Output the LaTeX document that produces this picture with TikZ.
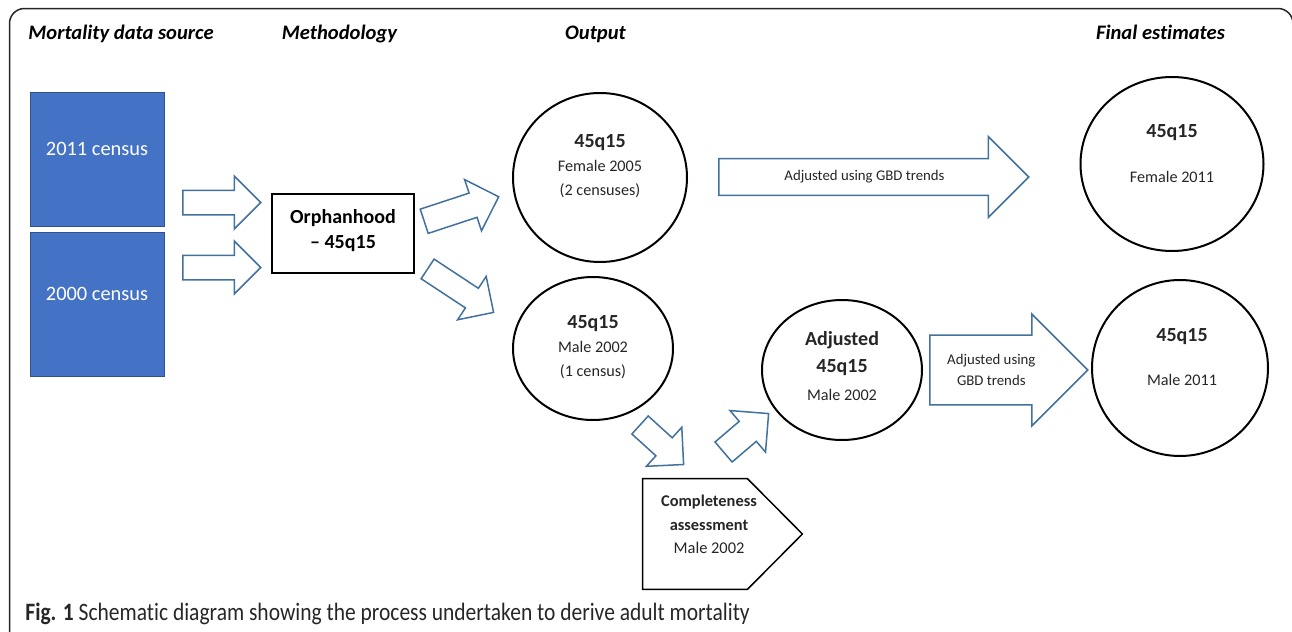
\documentclass[tikz,border=0pt]{standalone}
\usepackage{fontspec}
\setmainfont{Carlito}[Ligatures={TeX,NoCommon}]
\newfontfamily\capfont{Carlito}[FakeStretch=0.86, Ligatures={TeX,NoCommon}]
\usetikzlibrary{shapes.geometric,shapes.arrows,positioning}

\definecolor{censusblue}{HTML}{4472C4}
\definecolor{censusedge}{HTML}{2F528F}
\definecolor{arrowedge}{HTML}{41719C}
\definecolor{inktext}{HTML}{262626}

% bold first line inside the estimate bubbles
\newcommand{\ratebf}[1]{{\fontsize{10}{12}\selectfont\bfseries #1}}

\begin{document}
\begin{tikzpicture}[x=0.5pt, y=-0.5pt,
    frame/.style={line width=0.75pt, black!85, rounded corners=7.5pt},
    heading/.style={anchor=base, font=\fontsize{10.3}{12}\selectfont\bfseries\itshape},
    census/.style={draw=censusedge, fill=censusblue, line width=0.5pt, minimum width=67pt, minimum height=67pt},
    censustext/.style={text=white, font=\fontsize{10.2}{12}\selectfont},
    method/.style={draw, line width=0.75pt, minimum width=71pt, minimum height=39.5pt, align=center, font=\fontsize{10}{12.5}\selectfont\bfseries},
    estimate/.style={draw, ellipse, line width=1pt, inner sep=0pt},
    esttext/.style={align=center, text=inktext, font=\fontsize{8.1}{12}\selectfont},
    % body width = 2 x inner ysep, head width = minimum width
    blockarrow/.style={single arrow, draw=arrowedge, fill=white, line width=0.75pt, single arrow tip angle=90,
        inner xsep=0pt, inner ysep=5.75pt, anchor=tail, minimum width=24pt, minimum height=39pt},
    bigarrow/.style={blockarrow, inner xsep=1pt, align=center, text=inktext, font=\fontsize{7.4}{10.5}\selectfont},
]
\useasboundingbox (0,0) rectangle (1292,632);
% outer frame, runs off the page at the bottom and the right
\draw[frame] (80,645) -- (9.5,645) -- (9.5,8.5) -- (1293,8.5) -- (1293,80);

% column headings
\node[heading] (hsource) at (121,39) {Mortality data source};
\node[heading] (hmethod) at (339.5,39) {Methodology};
\node[heading] (houtput) at (595.5,39) {Output};
\node[heading] (hfinal) at (1160.5,39) {Final estimates};

% data sources
\node[census] (c2011) at (97,159) {};
\node[census, minimum height=72pt] (c2000) at (97,304) {};
\node[censustext] (t2011) at ([yshift=5pt]c2011.center) {2011 census};
\node[censustext] (t2000) at ([yshift=5pt]c2000.center) {2000 census};

\node[blockarrow] (a2011) at (182,202.5) {};
\node[blockarrow] (a2000) at (182,267.5) {};

% method
\node[method, text depth=4.5pt] (orph) at (343,233.5) {Orphanhood\\-- 45q15};

\node[blockarrow, rotate=18.2, minimum height=39.2pt, inner ysep=6pt] (afem) at (423.5,221.5) {};
\node[blockarrow, rotate=-33.4, minimum height=39.5pt, inner ysep=5.5pt] (amale) at (427,268.5) {};

% output
\node[estimate, minimum width=87pt, minimum height=84.5pt] (fem05) at (600,177.5) {};
\node[esttext] (tfem05) at (600,166) {\ratebf{45q15}\\Female 2005\\(2 censuses)};
\node[estimate, minimum width=80pt, minimum height=71.5pt] (male02) at (593,348.5) {};
\node[esttext] (tmale02) at (593,347) {\ratebf{45q15}\\Male 2002\\(1 census)};

% completeness check for males
\node[blockarrow, rotate=-42.2, minimum height=29.4pt, minimum width=23.7pt, inner ysep=5.7pt] (acheck) at (639.5,424.5) {};
\node[minimum width=52pt, minimum height=55pt, inner sep=0pt] (compl) at (695,534) {};
\draw[line width=0.75pt] (compl.north west) -- (compl.north east) -- ([xshift=27.5pt]compl.east)
    -- (compl.south east) -- (compl.south west) -- cycle;
\node[align=center, text=inktext, font=\fontsize{8.2}{11.75}\selectfont\bfseries] (tcompl) at (709,524.5)
    {Completeness\\assessment\\{\mdseries Male 2002}};
\node[blockarrow, rotate=40.5, minimum height=29.6pt, minimum width=23.8pt, inner ysep=6.2pt] (aadj) at (723,452.5) {};

\node[estimate, minimum width=80pt, minimum height=70pt] (adj) at (842,370) {};
\node[esttext, font=\fontsize{8.1}{13.75}\selectfont] (tadj) at (842,366) {\ratebf{Adjusted}\\\ratebf{45q15}\\Male 2002};

% trend adjustment
\node[bigarrow, minimum height=155pt, minimum width=40.5pt, text height=5.2pt, text depth=1.6pt, inner ysep=2.2pt] (trendf) at (718,177) {Adjusted using GBD trends};
\node[bigarrow, minimum height=79pt, minimum width=56pt, inner ysep=3.5pt] (trendm) at (929,370) {Adjusted using\\GBD trends};

% final estimates
\node[estimate, minimum width=91.5pt, minimum height=87pt] (fem11) at (1172,164) {};
\node[esttext] (tfem11) at (1172,154) {\ratebf{45q15}\\[10.5pt]Female 2011};
\node[estimate, minimum width=88pt, minimum height=88pt] (male11) at (1180,368) {};
\node[esttext] (tmale11) at (1182,357) {\ratebf{45q15}\\[10pt]Male 2011};

% caption
\node[anchor=base west, inner sep=0pt, text=inktext, font=\capfont\fontsize{12.5}{14}\selectfont] (caption) at (25,620)
    {\textbf{Fig. 1} Schematic diagram showing the process undertaken to derive adult mortality};
\end{tikzpicture}
\end{document}
